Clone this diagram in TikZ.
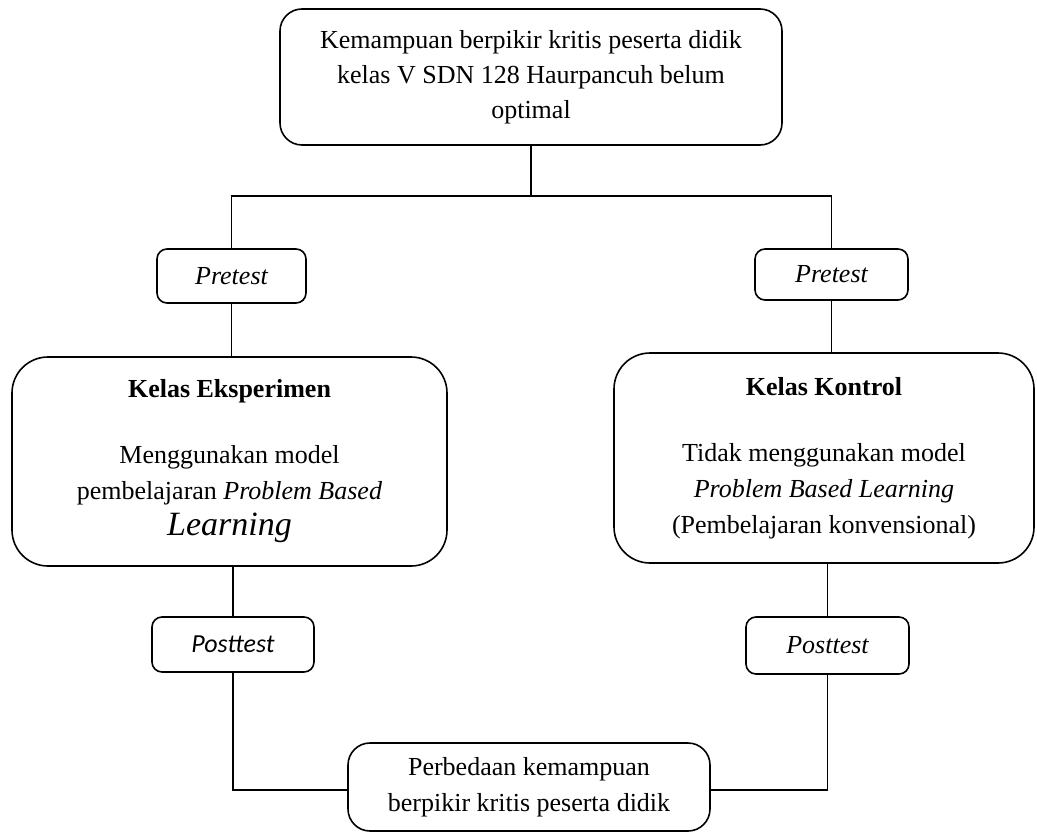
\documentclass[tikz,border=0pt]{standalone}
\usepackage{fontspec}
\setmainfont{Liberation Serif}
\newfontfamily\calibrifont{Carlito}
\usepackage{tikz}
\usetikzlibrary{positioning}

\tikzset{
	bigbox/.style={draw=black,line width=0.8pt,rounded corners=18pt,align=center,inner sep=0pt},
	midbox/.style={draw=black,line width=0.8pt,rounded corners=11pt,align=center,inner sep=0pt},
	testbox/.style={draw=black,line width=0.8pt,rounded corners=5pt,align=center,inner sep=0pt,font=\fontsize{13}{18}\selectfont\itshape},
	link/.style={line width=0.8pt}
}

\begin{document}
\begin{tikzpicture}[x=0.5pt,y=-0.5pt,font=\fontsize{13}{18}\selectfont]
	   \useasboundingbox (0,0) rectangle (1037,834);
	   \node (masalah) at (531,77)
	     [midbox,minimum width=251pt,minimum height=68pt]
	     {Kemampuan berpikir kritis peserta didik\\[-0.5pt]
	      kelas V SDN 128 Haurpancuh belum\\[-0.5pt] optimal};
	   \node (preL) at (231.5,276)
	     [testbox,minimum width=74.5pt,minimum height=27pt] {Pretest};
	   \node (preR) at (831.5,274.5)
	     [testbox,minimum width=76.5pt,minimum height=25.5pt] {Pretest};
	   \node (eksp) at (229.5,461.5)
	     [bigbox,minimum width=217.5pt,minimum height=104.5pt]
	     {\textbf{Kelas Eksperimen}\\[15pt]
	      Menggunakan model\\
	      pembelajaran \textit{Problem Based}\\
	      {\fontsize{17}{18}\selectfont\itshape Learning}};
	   \node (kont) at (824,458)
	     [bigbox,minimum width=210pt,minimum height=105pt]
	     {\textbf{Kelas Kontrol}\\[15pt]
	      Tidak menggunakan model\\
	      \textit{Problem Based Learning}\\
	      (Pembelajaran konvensional)};
	   \node (postL) at (233,644.5)
	     [testbox,minimum width=81pt,minimum height=27.5pt] {\calibrifont\itshape Posttest};
	   \node (postR) at (827.5,645.5)
	     [testbox,minimum width=81.5pt,minimum height=28.5pt] {Posttest};
	   \node (hasil) at (529,787)
	     [midbox,minimum width=181pt,minimum height=44pt]
	     {Perbedaan kemampuan\\ berpikir kritis peserta didik};
	   \coordinate (cabang) at (531,196);
	   \draw [link]
	     (masalah) -- (cabang)
	     (preL.north) |- (cabang) -| (preR.north)
	     (preL) -- (preL |- eksp.north)
	     (preR) -- (preR |- kont.north)
	     (postL |- eksp.south) -- (postL)
	     (postR |- kont.south) -- (postR)
	     (postL.south) |- ([yshift=-1.5pt]hasil.west)
	     (postR.south) |- ([yshift=-1.5pt]hasil.east);
\end{tikzpicture}
\end{document}
